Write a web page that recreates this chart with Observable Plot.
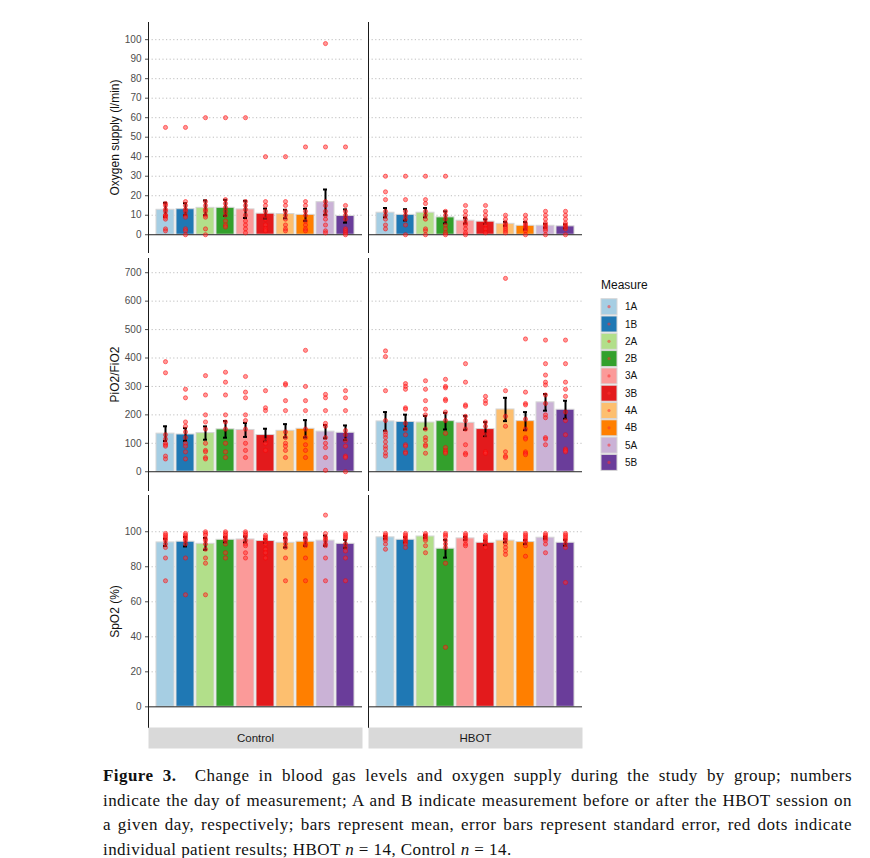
<!DOCTYPE html>
<html><head><meta charset="utf-8">
<script src="https://cdn.jsdelivr.net/npm/d3@7"></script>
<script src="https://cdn.jsdelivr.net/npm/@observablehq/plot@0.6"></script>
<style>
body{margin:0;background:#fff;font-family:"Liberation Sans",Arial,sans-serif;}
#wrap{position:relative;width:870px;height:858px;overflow:hidden;}
.row{position:absolute;left:0;}
#legend{position:absolute;left:594px;top:270px;}
#caption{position:absolute;left:103px;top:764px;width:749px;font-family:"Liberation Serif","Times New Roman",serif;font-size:17px;letter-spacing:0.45px;line-height:24.7px;color:#111;}
#caption .j{display:block;text-align:justify;text-align-last:justify;}
#caption .l{display:block;}
</style></head><body>
<div id="wrap">
<div class="row" id="r1" style="top:0px"></div>
<div class="row" id="r2" style="top:252px"></div>
<div class="row" id="r3" style="top:490px"></div>
<div class="row" id="r4" style="top:727px"></div>
<div id="legend"></div>
<div id="caption">
<span class="j"><b>Figure 3.</b>&nbsp; Change in blood gas levels and oxygen supply during the study by group; numbers</span>
<span class="j">indicate the day of measurement; A and B indicate measurement before or after the HBOT session on</span>
<span class="j">a given day, respectively; bars represent mean, error bars represent standard error, red dots indicate</span>
<span class="l">individual patient results; HBOT <i>n</i> = 14, Control <i>n</i> = 14.</span>
</div>
</div>
<script>
const groups = ["Control", "HBOT"];
const measures = ["1A","1B","2A","2B","3A","3B","4A","4B","5A","5B"];
const colors = ["#a6cee3","#1f78b4","#b2df8a","#33a02c","#fb9a99","#e31a1c","#fdbf6f","#ff7f00","#cab2d6","#6a3d9a"];

// Oxygen supply (l/min)
const o2MeanControl = [12.8, 13.1, 13.8, 13.8, 13.0, 10.8, 10.6, 10.2, 16.7, 9.6];
const o2SeControl   = [3.6, 3.1, 3.8, 4.1, 4.4, 2.6, 2.2, 3.1, 6.5, 3.4];
const o2MeanHBOT    = [11.3, 10.2, 11.3, 8.9, 7.2, 6.7, 5.6, 4.6, 4.6, 4.3];
const o2SeHBOT      = [2.4, 2.9, 2.4, 3.1, 1.5, 1.2, 1.0, 1.9, 1.0, 1.0];
const o2PointsControl = [
  [55,16,15,13,12,10,10,9,8,3,2],[55,17,15,13,12,10,9,3,2,0],[60,17,15,13,12,10,9,3,0],
  [60,18,16,14,12,10,7,5,4],[60,17,15,13,10,7,5,3,1],[40,17,15,12,10,8,5,3,2],
  [40,17,15,12,10,8,5,3,2],[45,17,15,12,10,7,5,3,2],[98,45,17,15,12,10,8,5,2,1],
  [45,15,12,10,8,3,2,1,0]];
const o2PointsHBOT = [
  [30,22,18,12,10,8,5,3],[30,18,12,10,8,5,0],[30,18,16,12,10,8,3,2,0],
  [30,12,10,8,5,3,1,0],[15,12,10,8,6,5,3,1,0],[15,12,10,8,6,5,3,1],
  [10,8,6,5,4,3,2,1],[10,8,6,5,4,3,2,0],[12,10,8,6,5,4,3,2,0],[12,10,8,6,5,4,3,0]];

// PiO2/FiO2
const pfMeanControl = [134, 131, 136, 149, 147, 129, 144, 151, 141, 137];
const pfSeControl   = [25.8, 22.3, 23.4, 29.3, 24.6, 22.3, 23.4, 30.5, 23.4, 25.8];
const pfMeanHBOT    = [177, 175, 173, 178, 172, 150, 219, 178, 244, 218];
const pfSeHBOT      = [32.8, 25.8, 23.4, 29.3, 24.6, 24.6, 41, 31.7, 29.3, 31.7];
const pfPointsControl = [
  [387,348,130,115,100,95,90,55,45],[290,260,175,160,140,120,100,90,70,45],
  [338,270,200,175,150,100,75,70,50,45],[350,315,270,200,175,150,100,70,50],
  [335,280,260,200,180,150,100,75,50],[285,225,215,110,100,75],
  [310,305,250,215,140,120,100,90,75,50],[427,300,250,215,150,120,95,75,50],
  [272,260,215,170,160,120,100,85,50,5],[285,260,215,145,130,110,90,55,50,0]];
const pfPointsHBOT = [
  [425,405,285,180,140,130,120,105,90,80,65,55],[310,300,290,225,220,170,150,130,95,90,70,65],
  [320,290,250,220,200,150,120,110,95,90,65],[325,300,295,255,250,210,180,135,85,75,70,65],
  [380,315,235,230,195,180,150,95,65,60],[265,250,240,175,160,130,70,65],
  [680,285,195,160,70,55,50],[467,280,240,235,185,150,120,115,70,65,60],
  [463,380,340,315,305,270,240,200,190,120,115,95],[463,380,315,290,265,210,180,130,80,75,70]];

// SpO2 (%)
const spMeanControl = [93.9, 94.3, 93.1, 95.4, 95.6, 94.7, 93.7, 94.3, 94.9, 93.1];
const spSeControl   = [2.1, 2.7, 3.4, 1.5, 1.7, 1.1, 2.7, 2.3, 2.9, 2.3];
const spMeanHBOT    = [96.8, 95.4, 97.3, 90.3, 96.2, 93.7, 94.9, 94.1, 96.6, 93.7];
const spSeHBOT      = [0.8, 1.5, 0.7, 5.1, 0.8, 1.3, 1.0, 1.2, 0.6, 1.7];
const spPointsControl = [
  [99,98,97,96,95,93,91,85,72],[99,98,97,96,95,93,85,64],[100,99,98,96,95,93,90,85,82,64],
  [100,99,98,97,96,95,93,88,85],[100,99,98,97,95,93,92,88,85],[98,97,96,95,94,93,90,88,85],
  [99,98,96,95,93,91,85,72],[99,98,96,95,93,92,85,72],[109.5,99,97,96,95,93,92,85,72],
  [99,98,97,96,93,91,89,85,72]];
const spPointsHBOT = [
  [99,98,97,96,95,93,90],[99,98,97,96,95,94,93,91],[99,98,97,96,95,92,88],
  [99,98,97,95,93,91,82,34],[99,98,97,96,95,93,92],[98,97,96,95,94,93,91],
  [99,98,97,96,95,93,91,89,87],[99,98,97,96,95,94,92,86],[99,98,97,96,95,93,88],
  [99,98,97,96,95,93,91,71]];

const yTitles = ["Oxygen supply (l/min)", "PiO2/FiO2", "SpO2 (%)"];

const FONT = "Liberation Sans, Arial, sans-serif";
const common = {
  width: 600, marginLeft: 148, marginRight: 18, marginBottom: 0,
  style: {fontFamily: FONT, fontSize: "10px", color: "#4d4d4d", background: "transparent", overflow: "visible"},
  fx: {domain: groups, padding: 0.0273, axis: null, label: null},
  x: {domain: measures, paddingInner: 0.1, paddingOuter: 0.15, axis: null},
  color: {domain: measures, range: colors}
};

function buildRow({means, ses, points, domain, ticks, title, height, marginTop}) {
  const bars = [], dots = [];
  groups.forEach(g => measures.forEach((m, i) => {
    bars.push({group: g, measure: m, mean: means[g][i], se: ses[g][i]});
    points[g][i].forEach(v => dots.push({group: g, measure: m, value: v}));
  }));
  return Plot.plot({
    ...common, height, marginTop,
    y: {domain, axis: null},
    marks: [
      Plot.gridY(ticks.filter(t => t > 0), {stroke: "#b8b8b8", strokeOpacity: 1, strokeDasharray: "1.2,2.4", strokeWidth: 0.9}),
      Plot.barY(bars, {fx: "group", x: "measure", y: "mean", fill: "measure", stroke: "#d6d6d6", strokeWidth: 1}),
      Plot.ruleY([0], {stroke: "#222", strokeWidth: 1}),
      Plot.ruleX(bars, {fx: "group", x: "measure", y1: d => d.mean - d.se, y2: d => d.mean + d.se, stroke: "black", strokeWidth: 2}),
      Plot.tickY(bars, {fx: "group", x: "measure", y: d => d.mean + d.se, stroke: "black", strokeWidth: 2, insetLeft: 7, insetRight: 7}),
      Plot.tickY(bars, {fx: "group", x: "measure", y: d => d.mean - d.se, stroke: "black", strokeWidth: 2, insetLeft: 7, insetRight: 7}),
      Plot.dot(dots, {fx: "group", x: "measure", y: "value", r: 2.1, fill: "#ff3030", fillOpacity: 0.5, stroke: "#ff0000", strokeOpacity: 0.6, strokeWidth: 0.8}),
      Plot.frame({anchor: "left", stroke: "#1a1a1a"}),
      Plot.axisY(ticks, {tickSize: 3, tickPadding: 4, label: null, stroke: "#4d4d4d", fill: "#4d4d4d"}),
      Plot.text([{group: "Control", t: title}], {fx: "group", text: "t", frameAnchor: "left", textAnchor: "middle", rotate: -90, dx: -33, fontSize: 12, fill: "#111"})
    ]
  });
}

document.getElementById("r1").append(buildRow({
  means: {Control: o2MeanControl, HBOT: o2MeanHBOT}, ses: {Control: o2SeControl, HBOT: o2SeHBOT},
  points: {Control: o2PointsControl, HBOT: o2PointsHBOT},
  domain: [-9.1, 108.8], ticks: d3.range(0, 101, 10), title: yTitles[0], height: 252, marginTop: 22
}));
document.getElementById("r2").append(buildRow({
  means: {Control: pfMeanControl, HBOT: pfMeanHBOT}, ses: {Control: pfSeControl, HBOT: pfSeHBOT},
  points: {Control: pfPointsControl, HBOT: pfPointsHBOT},
  domain: [-66, 750], ticks: d3.range(0, 701, 100), title: yTitles[1], height: 238, marginTop: 6
}));
document.getElementById("r3").append(buildRow({
  means: {Control: spMeanControl, HBOT: spMeanHBOT}, ses: {Control: spSeControl, HBOT: spSeHBOT},
  points: {Control: spPointsControl, HBOT: spPointsHBOT},
  domain: [-11.8, 120.7], ticks: d3.range(0, 101, 20), title: yTitles[2], height: 237, marginTop: 5
}));

// facet strips
document.getElementById("r4").append(Plot.plot({
  ...common, height: 21, marginTop: 0,
  marks: [
    Plot.frame({fill: "#d9d9d9"}),
    Plot.text(groups, {fx: d => d, text: d => d, frameAnchor: "middle", fontSize: 11.5, fill: "#1a1a1a"})
  ]
}));

// legend
const lg = d3.select("#legend").append("svg").attr("width", 80).attr("height", 210)
  .attr("font-family", FONT);
lg.append("text").attr("x", 7).attr("y", 19).attr("font-size", 12).attr("fill", "#111").text("Measure");
measures.forEach((m, i) => {
  const cy = 36.7 + i * 17.3;
  const g = lg.append("g");
  g.append("rect").attr("x", 7).attr("y", cy - 8).attr("width", 16).attr("height", 16)
    .attr("fill", colors[i]).attr("stroke", "#d6d6d6").attr("stroke-width", 1);
  g.append("circle").attr("cx", 15).attr("cy", cy).attr("r", 1.6)
    .attr("fill", "#ff3030").attr("fill-opacity", 0.55);
  g.append("text").attr("x", 31).attr("y", cy + 3.5).attr("font-size", 10).attr("fill", "#111").text(m);
});
</script>
</body></html>
